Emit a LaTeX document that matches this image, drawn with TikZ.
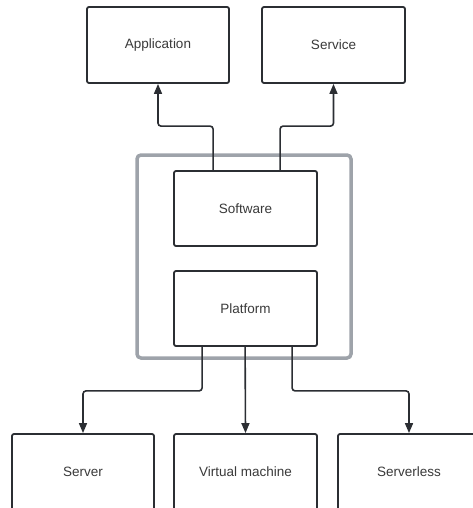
\documentclass[tikz,border=0pt]{standalone}
\usepackage{fontspec}
\setmainfont{Liberation Sans}
\usetikzlibrary{arrows.meta,calc}
\definecolor{edge}{HTML}{2B2E33}
\definecolor{label}{HTML}{3A3A3A}
\definecolor{frame}{HTML}{9EA3AA}
\tikzset{
  blockbox/.style={draw=edge, line width=1.8pt, rounded corners=2pt, fill=white,
    minimum width=142pt, minimum height=76pt, inner sep=0pt,
    font=\fontsize{13.5pt}{16pt}\selectfont, text=label},
  arr/.style={draw=edge, line width=1.6pt, rounded corners=3pt,
    -{Triangle[length=10pt,width=8pt]}},
  wire/.style={draw=edge, line width=1.6pt}
}
\begin{document}
\begin{tikzpicture}[x=1pt,y=-1pt]
  \useasboundingbox (0,0) rectangle (473,508);
  \begin{scope}
    \clip (0,0) rectangle (473,508);
    % layered platform frame
    \draw[frame, line width=3.5pt, rounded corners=4pt] (137,155) rectangle (351,358);
    % boxes
    \node[blockbox] (app) at (158,45) {Application};
    \node[blockbox, minimum width=143pt] (svc) at (333.5,45) {Service};
    \node[blockbox, minimum width=143pt, minimum height=75pt] (sw) at (245.5,208.5) {Software};
    \node[blockbox, minimum width=143pt, minimum height=75pt] (pf) at (245.5,308.5) {Platform};
    \node[blockbox] (srv) at (83,472) {Server};
    \node[blockbox, minimum width=143pt] (vm) at (245.5,472) {Virtual machine};
    \node[blockbox] (sls) at (409,472) {Serverless};
    % software feeds the top layer
    \draw[arr] ($(sw.north west)+(40,0)$) -- ++(0,-44) -| (app.south);
    \draw[arr] ($(sw.north west)+(107,0)$) -- ++(0,-44) -| (svc.south);
    % platform runs on the bottom layer
    \draw[arr] ($(pf.south west)+(29,0)$) -- ++(0,44) -| (srv.north);
    \draw[arr] ($(pf.south west)+(72,0)$) -- (vm.north);
    \draw[arr] ($(pf.south west)+(119,0)$) -- ++(0,44) -| (sls.north);
  \end{scope}
\end{tikzpicture}
\end{document}
